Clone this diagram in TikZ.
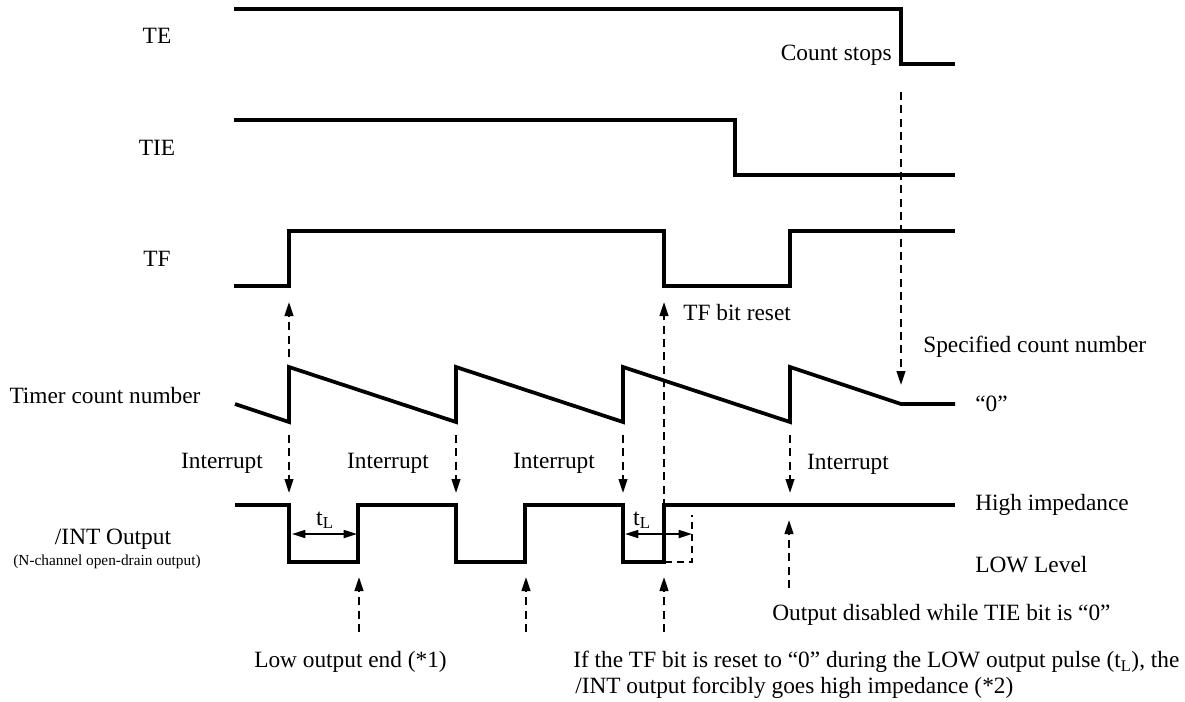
\documentclass[tikz,border=0pt]{standalone}
\usepackage{fontspec}
\setmainfont{Liberation Serif}
\usetikzlibrary{arrows.meta}
\begin{document}
\begin{tikzpicture}[x=0.75pt,y=-0.75pt,
  sig/.style={line width=2.8pt},
  dsh/.style={line width=1.6pt, dash pattern=on 6pt off 4pt},
  arr/.style={dsh,-{Triangle[length=10.5pt,width=6.5pt]}},
  box/.style={line width=1.3pt, dash pattern=on 5pt off 4pt},
  tlarr/.style={line width=1.3pt,{Triangle[length=10pt,width=6pt]}-{Triangle[length=10pt,width=6pt]}},
  lbl/.style={font=\fontsize{17.5}{20}\selectfont, inner sep=0pt},
  small/.style={font=\fontsize{11.5}{13}\selectfont, inner sep=0pt},
  tl/.style={font=\fontsize{18}{20}\selectfont, inner sep=0pt}]
\useasboundingbox (0,0) rectangle (1185,701);

% signal labels
\node[lbl] (lTE) at (157,36) {TE};
\node[lbl] (lTIE) at (157,148) {TIE};
\node[lbl] (lTF) at (157,259) {TF};
\node[lbl] (lTC) at (105,396) {Timer count number};
\node[lbl] (lINT) at (113,539) {/INT Output};
\node[small] (lINT2) at (107,562) {(N-channel open-drain output)};

% waveforms
\draw[sig] (234,9) -| (901,64) -- (955,64);
\draw[sig] (234,120) -| (735,175) -- (955,175);
\draw[sig] (234,286) -| (289,231) -| (664,286) -| (790,231) -- (955,231);
\draw[sig] (235,404) -- (289,422) -- (289,367) -- (456,422) -- (456,367)
  -- (623,422) -- (623,367) -- (790,422) -- (790,367) -- (901,404) -- (955,404);
\draw[sig] (235,505) -| (289,562) -| (358,505) -| (456,562) -| (525,505)
  -| (623,562) -| (664,505) -- (955,505);

% coordinates for connectors
\coordinate (teA) at (901,92);   \coordinate (teB) at (901,385);
\coordinate (tfA) at (289,357);  \coordinate (tfB) at (289,302);
\coordinate (rsA) at (664,507);  \coordinate (rsB) at (664,302);
\foreach \x [count=\i] in {289,456,623,790}{
  \coordinate (inA\i) at (\x,435); \coordinate (inB\i) at (\x,493);
}
\coordinate (u1A) at (359,632); \coordinate (u1B) at (359,577);
\coordinate (u2A) at (526,632); \coordinate (u2B) at (526,577);
\coordinate (u3A) at (664,632); \coordinate (u3B) at (664,577);
\coordinate (u4A) at (789,588); \coordinate (u4B) at (789,520);

% dashed arrows
\draw[arr] (teA) -- (teB);
\draw[arr] (tfA) -- (tfB);
\draw[arr] (rsA) -- (rsB);
\foreach \i in {1,2,3,4}{ \draw[arr] (inA\i) -- (inB\i); }
\draw[arr] (u1A) -- (u1B);
\draw[arr] (u2A) -- (u2B);
\draw[arr] (u3A) -- (u3B);
\draw[arr] (u4A) -- (u4B);

% dashed extension box
\coordinate (bx1) at (665,562); \coordinate (bx2) at (692,562); \coordinate (bx3) at (692,515);
\draw[box] (bx1) -- (bx2) -- (bx3);

% t_L arrows
\coordinate (t1A) at (292,534); \coordinate (t1B) at (357,534);
\coordinate (t2A) at (625,534); \coordinate (t2B) at (692,534);
\draw[tlarr] (t1A) -- (t1B);
\draw[tlarr] (t2A) -- (t2B);
\node[tl] (tl1) at (325,520) {t\textsubscript{L}};
\node[tl] (tl2) at (642,520) {t\textsubscript{L}};

% annotations
\node[lbl, anchor=east] (cs) at (892,55) {Count stops};
\node[lbl, anchor=west] (tfr) at (683,313) {TF bit reset};
\node[lbl, anchor=west] (scn) at (923,347) {Specified count number};
\node[lbl, anchor=west] (zero) at (975,404) {“0”};
\node[lbl] (i1) at (222,463) {Interrupt};
\node[lbl] (i2) at (388,463) {Interrupt};
\node[lbl] (i3) at (554,463) {Interrupt};
\node[lbl] (i4) at (848,464) {Interrupt};
\node[lbl, anchor=west] (hi) at (975,505) {High impedance};
\node[lbl, anchor=west] (lo) at (975,565) {LOW Level};
\node[lbl, anchor=west] (od) at (772,615) {Output disabled while TIE bit is “0”};
\node[lbl, anchor=east] (loe) at (447,662) {Low output end (*1)};
\node[lbl, anchor=west] (if1) at (573,662) {If the TF bit is reset to “0” during the LOW output pulse (t\textsubscript{L}), the};
\node[lbl, anchor=west] (if2) at (575,688) {/INT output forcibly goes high impedance (*2)};
\end{tikzpicture}
\end{document}
